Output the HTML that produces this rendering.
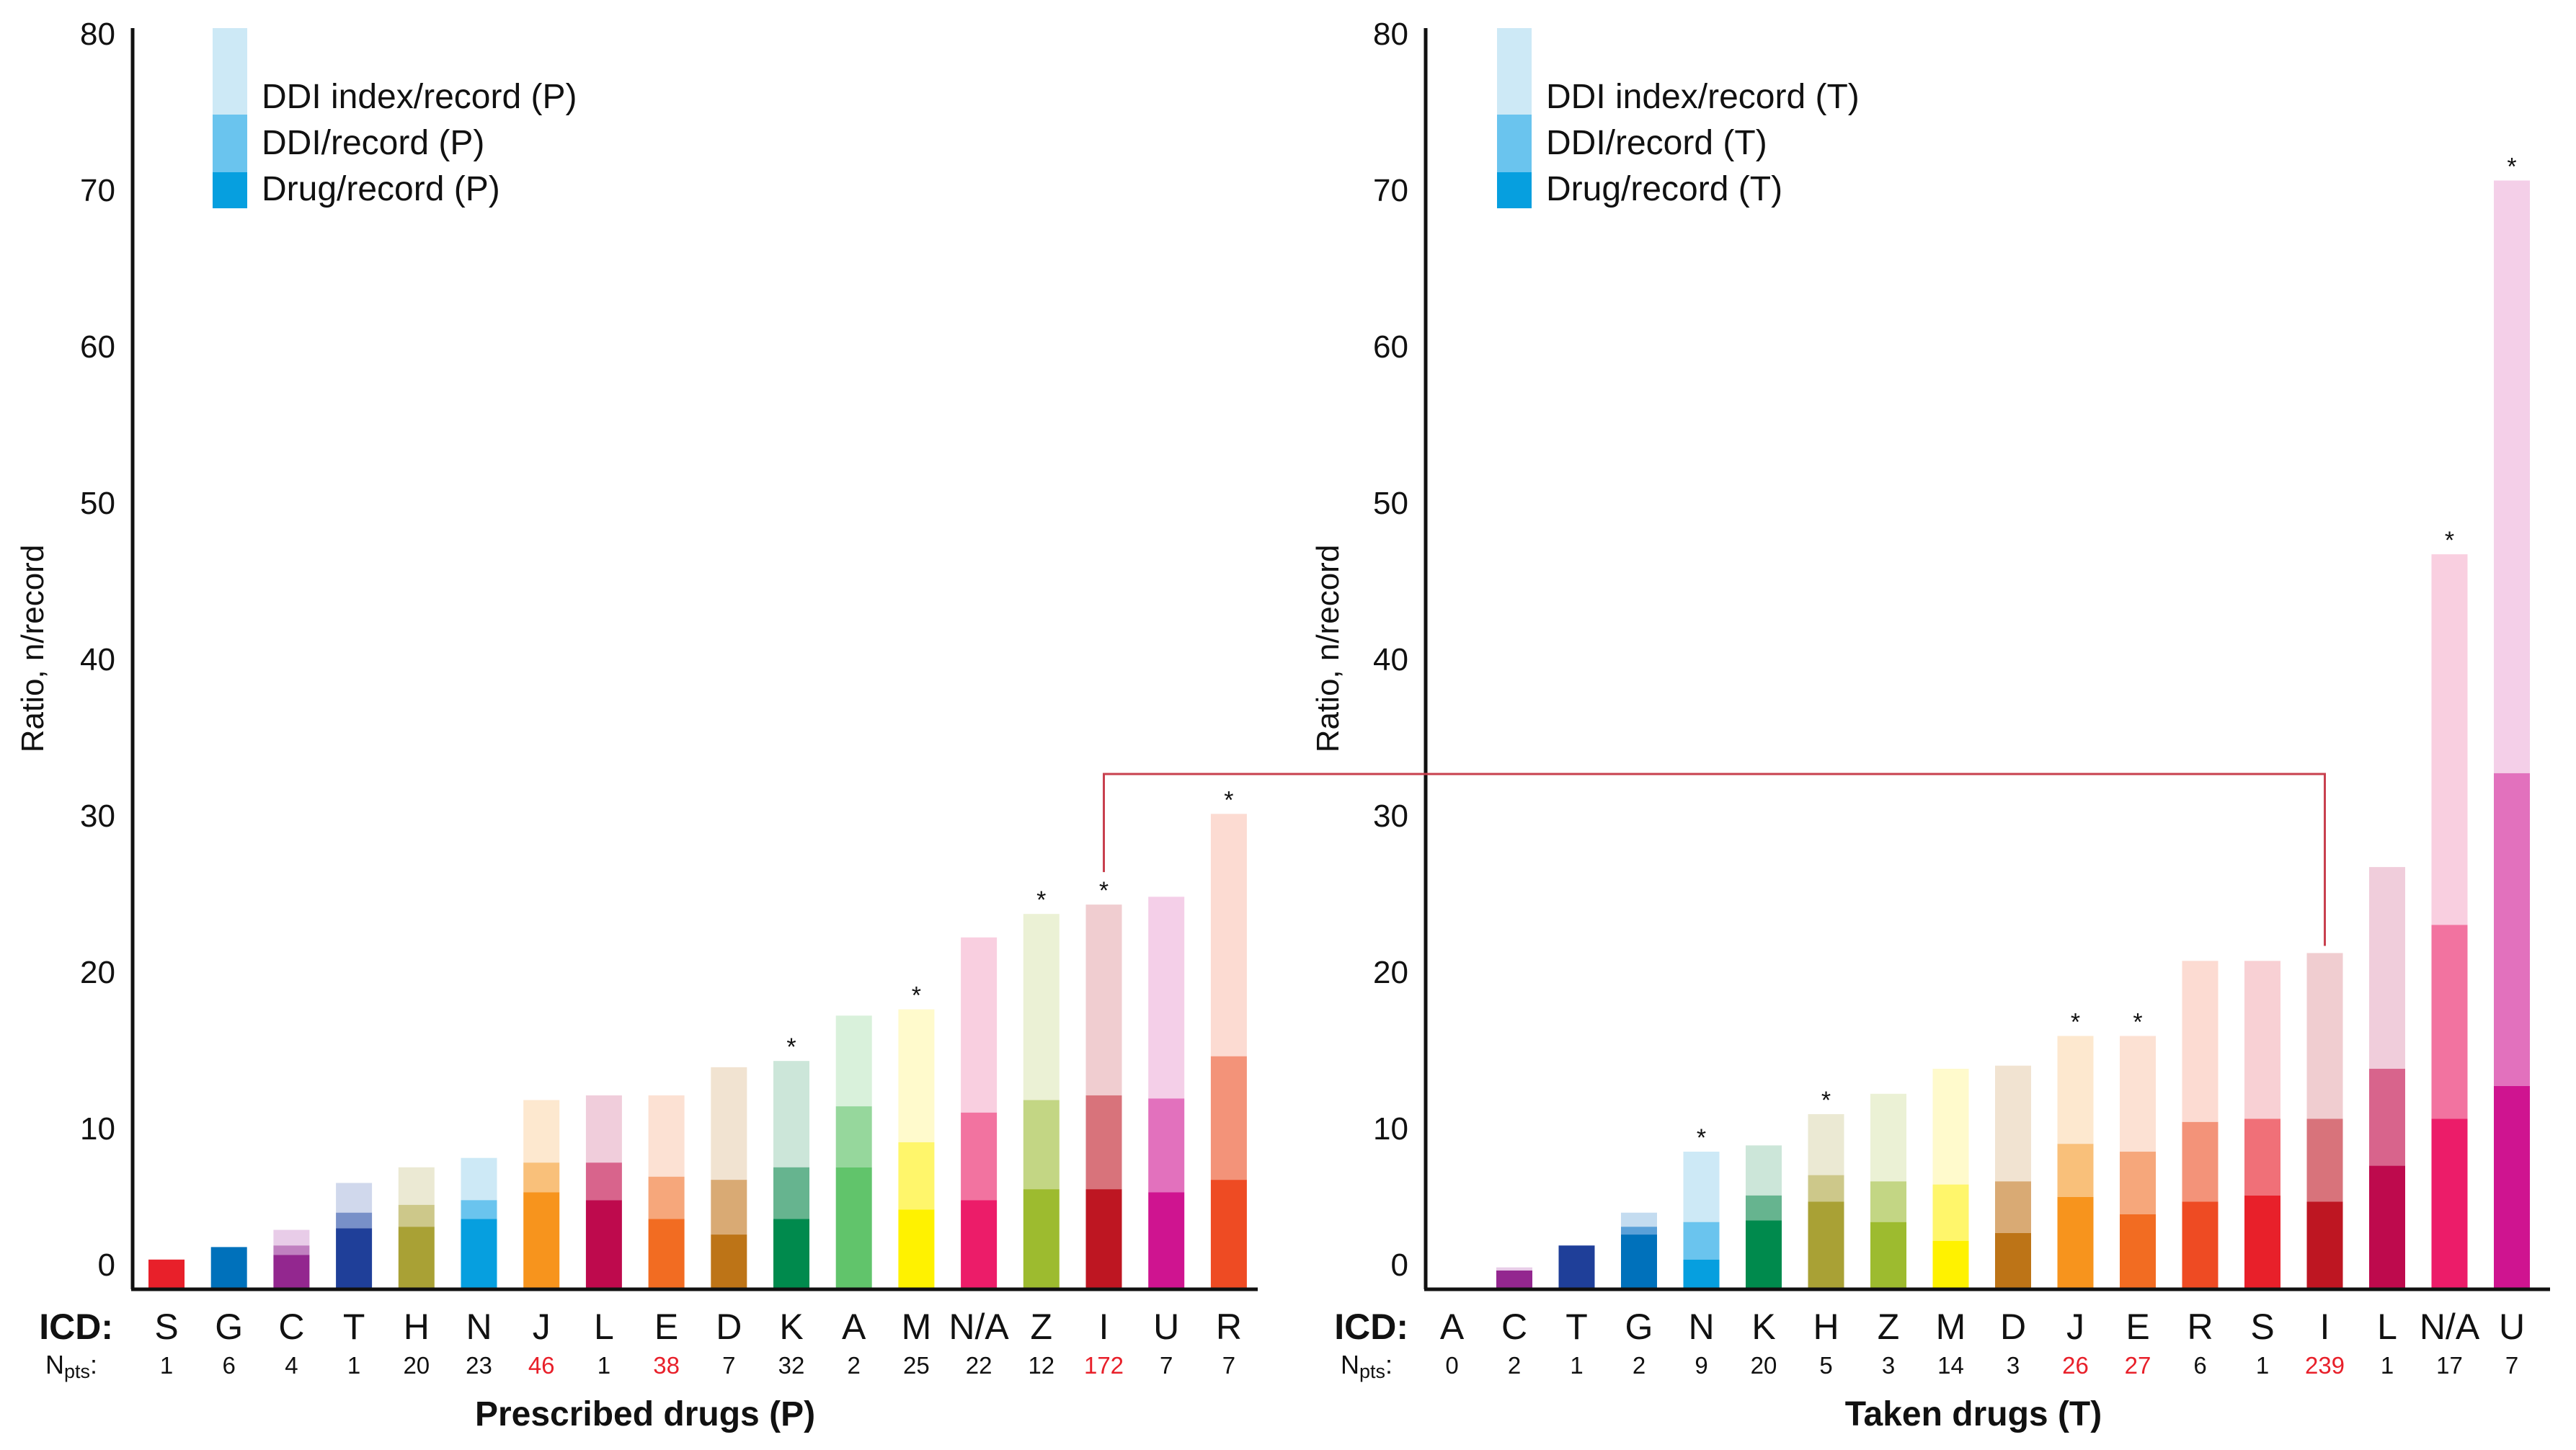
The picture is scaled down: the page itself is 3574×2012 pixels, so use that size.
<!DOCTYPE html>
<html><head><meta charset="utf-8"><style>
html,body{margin:0;padding:0;background:#fff;}
svg{display:block;font-family:"Liberation Sans",Arial,sans-serif;}
</style></head><body>
<svg id="chart" width="3574" height="2012" viewBox="0 0 3574 2012" xmlns="http://www.w3.org/2000/svg"></svg>
<script>
const leftCats = ["S","G","C","T","H","N","J","L","E","D","K","A","M","N/A","Z","I","U","R"];
const leftNpts = ["1","6","4","1","20","23","46","1","38","7","32","2","25","22","12","172","7","7"];
const leftRedN = [6,8,15];
const leftDrug = [1.9,2.7,2.2,3.9,4.0,4.5,6.2,5.7,4.5,3.5,4.5,7.8,5.1,5.7,6.4,6.4,6.2,7.0];
const leftDDI  = [1.9,2.7,2.8,4.9,5.4,5.7,8.1,8.1,7.2,7.0,7.8,11.7,9.4,11.3,12.1,12.4,12.2,14.9];
const leftIdx  = [1.9,2.7,3.8,6.8,7.8,8.4,12.1,12.4,12.4,14.2,14.6,17.5,17.9,22.5,24.0,24.6,25.1,30.4];
const leftStars = ["K","M","Z","I","R"];

const rightCats = ["A","C","T","G","N","K","H","Z","M","D","J","E","R","S","I","L","N/A","U"];
const rightNpts = ["0","2","1","2","9","20","5","3","14","3","26","27","6","1","239","1","17","7"];
const rightRedN = [10,11,14];
const rightDrug = [0,1.2,2.8,3.5,1.9,4.4,5.6,4.3,3.1,3.6,5.9,4.8,5.6,6.0,5.6,7.9,10.9,13.0];
const rightDDI  = [0,1.2,2.8,4.0,4.3,6.0,7.3,6.9,6.7,6.9,9.3,8.8,10.7,10.9,10.9,14.1,23.3,33.0];
const rightIdx  = [0,1.4,2.8,4.9,8.8,9.2,11.2,12.5,14.1,14.3,16.2,16.2,21.0,21.0,21.5,27.0,47.0,70.9];
const rightStars = ["N","H","J","E","N/A","U"];

const yTicks = [0,10,20,30,40,50,60,70,80];

const colors = {
 "S":["#e8202a","#f07078","#f8d0d4"], "G":["#0071bb","#5aa0d8","#c4dcf0"],
 "C":["#93278f","#c080c0","#e8cce8"], "T":["#1f3f99","#7890c8","#d0d8ec"],
 "H":["#a9a135","#cdc88a","#ebe9d3"], "N":["#069fdf","#6ac4ee","#cde9f6"],
 "J":["#f7941d","#f9c07a","#fde8cf"], "L":["#be0a4d","#d8648c","#f0cddb"],
 "E":["#f26c22","#f6a77b","#fce1d3"], "D":["#bd7417","#d9aa74","#f1e3d1"],
 "K":["#008a4d","#66b48f","#cce6d9"], "A":["#61c46b","#96d79c","#d9f1db"],
 "M":["#fff200","#fff66b","#fffacc"], "N/A":["#ec1c69","#f273a0","#f9cfe0"],
 "Z":["#9dbb2f","#c3d684","#ebf1d5"], "I":["#be1622","#d8737b","#f0cdd0"],
 "U":["#cf1490","#e271bd","#f4cfe8"], "R":["#ee4b23","#f39379","#fcdbd2"]
};

const NS="http://www.w3.org/2000/svg";
const svg=document.getElementById('chart');
function mk(tag,attrs,parent){const e=document.createElementNS(NS,tag);for(const k in attrs)e.setAttribute(k,attrs[k]);(parent||svg).appendChild(e);return e;}
const BASE=1789, UNIT=21.7;
function y(v){return BASE-v*UNIT;}

function panel(cfg){
  const g=mk('g',{});
  
  
  function x(i){return cfg.x0+i*cfg.step;}
  const lg=mk('g',{},g);
  
  
  const s1=mk('rect',{x:cfg.legX,y:39,width:48,height:120,fill:"#cde9f6"},lg);
  
  
  const s2=mk('rect',{x:cfg.legX,y:159,width:48,height:80,fill:"#6ac4ee"},lg);
  
  
  const s3=mk('rect',{x:cfg.legX,y:239,width:48,height:50,fill:"#069fdf"},lg);
  
  
  const legT=["DDI index/record ("+cfg.tag+")","DDI/record ("+cfg.tag+")","Drug/record ("+cfg.tag+")"];
  const legY=[150,214,278];
  for(let k=0;k<3;k++){const t=mk('text',{x:cfg.legX+68,y:legY[k],'font-size':48,fill:"#111"},lg);t.textContent=legT[k];
    
    }
  for(let i=0;i<cfg.cats.length;i++){
    const c=cfg.cats[i], col=colors[c], cx=x(i), w=50;
    const layers=[[cfg.ddi[i],cfg.idx[i],col[2]],[cfg.drug[i],cfg.ddi[i],col[1]],[0,cfg.drug[i],col[0]]];
    for(const L of layers){
      if(L[1]-L[0]<=0)continue;
      const r=mk('rect',{x:cx-w/2,y:y(L[1]),width:w,height:y(L[0])-y(L[1]),fill:L[2]},g);
      
      
    }
    if(cfg.stars.indexOf(c)>=0){
      const st=mk('text',{x:cx,y:y(cfg.idx[i])-8,'font-size':34,'text-anchor':'middle',fill:"#111"},g);st.textContent="*";
      
      
    }
    const lt=mk('text',{x:cx,y:1858,'font-size':50,'text-anchor':'middle',fill:"#111"},g);lt.textContent=c;
    
    
    const nt=mk('text',{x:cx,y:1906,'font-size':33,'text-anchor':'middle',fill:cfg.red.indexOf(i)>=0?"#e8202a":"#111"},g);nt.textContent=cfg.npts[i];
    
    
  }
  const ya=mk('line',{x1:cfg.ax,y1:39,x2:cfg.ax,y2:BASE,stroke:"#111","stroke-width":5},g);
  
  
  const xa=mk('line',{x1:cfg.ax-2,y1:BASE,x2:cfg.axEnd,y2:BASE,stroke:"#111","stroke-width":5},g);
  
  
  for(const v of yTicks){
    const t=mk('text',{x:cfg.ax-24,y:(v===0?y(v)-28:y(v))+9,'font-size':44,'text-anchor':'end',fill:"#111"},g);t.textContent=v;
    
    
  }
  const yl=mk('text',{x:0,y:0,'font-size':44,'text-anchor':'middle',fill:"#111",transform:`translate(${cfg.ylX},900) rotate(-90)`},g);yl.textContent="Ratio, n/record";
  
  
  const icd=mk('text',{x:cfg.icdX,y:1858,'font-size':50,'font-weight':'bold','text-anchor':'end',fill:"#111"},g);icd.textContent="ICD:";
  
  
  const np=mk('text',{x:cfg.icdX-94,y:1906,'font-size':36,fill:"#111"},g);
  
  
  np.innerHTML='N<tspan font-size="27" dy="6">pts</tspan><tspan dy="-6">:</tspan>';
  const tt=mk('text',{x:cfg.titleX,y:1978,'font-size':48,'font-weight':'bold','text-anchor':'middle',fill:"#111"},g);tt.textContent=cfg.title;
  
  
}
panel({name:'prescribed-panel',tag:'P',cats:leftCats,npts:leftNpts,red:leftRedN,drug:leftDrug,ddi:leftDDI,idx:leftIdx,stars:leftStars,
  x0:231,step:86.7,ax:184,axEnd:1745,legX:295,ylX:60,icdX:157,titleX:895,title:"Prescribed drugs (P)"});
panel({name:'taken-panel',tag:'T',cats:rightCats,npts:rightNpts,red:rightRedN,drug:rightDrug,ddi:rightDDI,idx:rightIdx,stars:rightStars,
  x0:2014.5,step:86.5,ax:1978,axEnd:3538,legX:2077,ylX:1857,icdX:1954,titleX:2738,title:"Taken drugs (T)"});
const lI=231+15*86.7, rI=2014.5+14*86.5;
const conn=mk('polyline',{points:`${lI},${y(leftIdx[15])-45} ${lI},1074 ${rI},1074 ${rI},${y(rightIdx[14])-10}`,fill:"none",stroke:"#c8404e","stroke-width":3});


</script>
</body></html>
